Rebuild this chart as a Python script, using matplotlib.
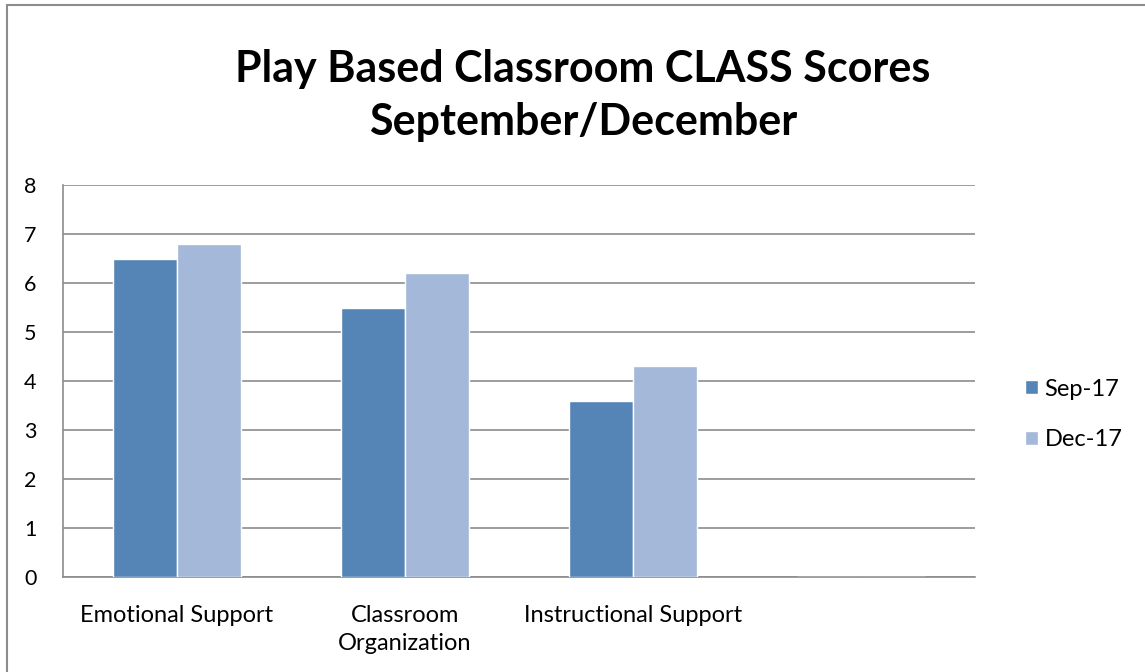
import matplotlib.pyplot as plt
import numpy as np
from matplotlib.patches import Rectangle

plt.rcParams['font.family'] = ['Lato', 'DejaVu Sans']

categories = ['Emotional Support', 'Classroom\nOrganization', 'Instructional Support', '']
sep_scores = [6.5, 5.5, 3.6, 0]
dec_scores = [6.8, 6.2, 4.3, 0]
series_names = ['Sep-17', 'Dec-17']
sep_color = '#5584B6'
dec_color = '#A4B8D9'

fig = plt.figure(figsize=(11.45, 6.72), dpi=100)
ax = fig.add_axes([63 / 1145, 95 / 672, 912 / 1145, 392 / 672])

# outer chart frame
fig.patches.append(Rectangle((7 / 1145, -0.1), 1.2, 1 - 5 / 672 + 0.1,
                             transform=fig.transFigure, fill=False,
                             edgecolor='#8c8c8c', linewidth=1.5))

x = np.arange(len(categories)) + 0.5
w = 0.28
ax.bar(x - w / 2, sep_scores, w, color=sep_color, edgecolor='white',
       linewidth=1, label=series_names[0], zorder=3)
ax.bar(x + w / 2, dec_scores, w, color=dec_color, edgecolor='white',
       linewidth=1, label=series_names[1], zorder=3)

ax.set_xlim(0, 4)
ax.set_ylim(0, 8)
ax.set_yticks(range(0, 9))
ax.set_xticks(x)
ax.set_xticklabels(categories, fontsize=17, linespacing=1.45)
ax.tick_params(axis='x', length=0, pad=20)
ax.tick_params(axis='y', length=0, pad=19, labelsize=15.5)
ax.grid(axis='y', color='#8c8c8c', linewidth=1.2, zorder=0)
for s in ['top', 'right']:
    ax.spines[s].set_visible(False)
ax.spines['left'].set_color('#8c8c8c')
ax.spines['bottom'].set_color('#8c8c8c')
ax.spines['left'].set_linewidth(1.2)
ax.spines['bottom'].set_linewidth(1.2)

fig.text(0.509, 0.858, 'Play Based Classroom CLASS Scores\nSeptember/December',
         ha='center', va='center', fontsize=31, fontweight='bold',
         linespacing=1.38)

ax.legend(loc='center left', bbox_to_anchor=(1.044, 0.415), frameon=False,
          borderaxespad=0, fontsize=17, handlelength=0.55, handleheight=0.55,
          labelspacing=1.25, handletextpad=0.3)

plt.savefig('out.png', dpi=100)
